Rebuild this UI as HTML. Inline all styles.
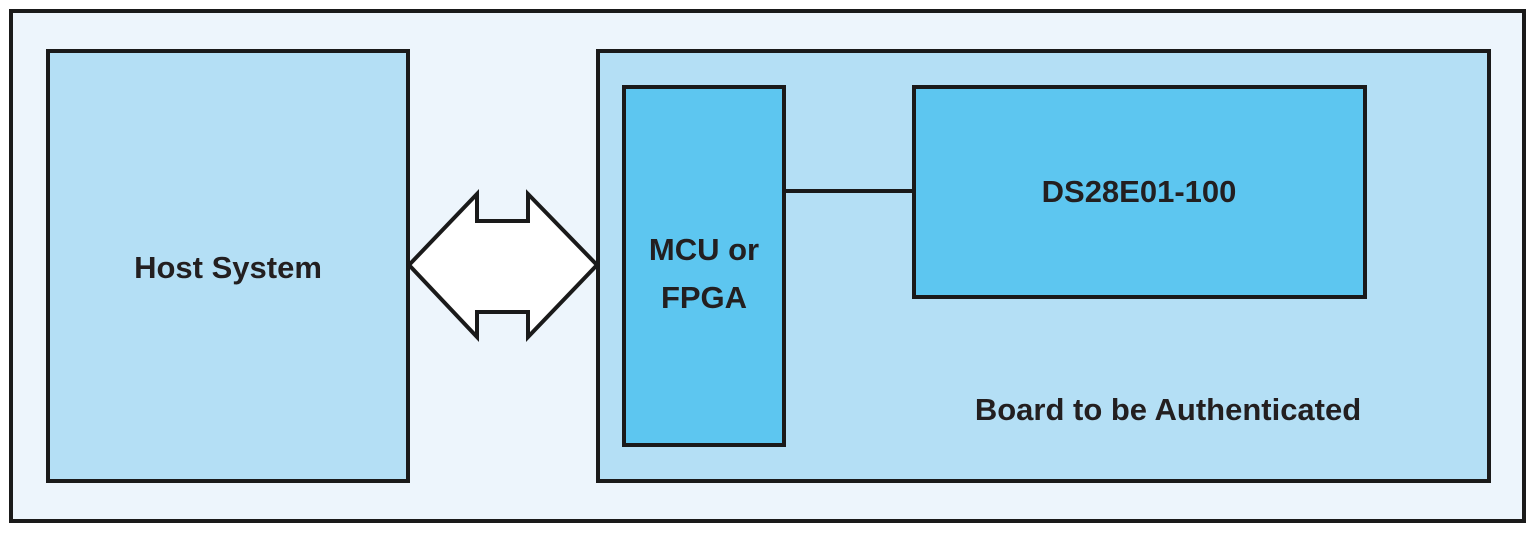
<!DOCTYPE html>
<html><head><meta charset="utf-8"><style>
html,body{margin:0;padding:0;background:#fff;}
svg text{font-family:"Liberation Sans",sans-serif;font-weight:bold;fill:#231f20;}
</style></head><body>
<svg width="1535" height="533" viewBox="0 0 1535 533" xmlns="http://www.w3.org/2000/svg">
<rect x="11" y="11" width="1513" height="510" fill="#edf5fc" stroke="#1a1a1a" stroke-width="4"/>
<rect x="48" y="51" width="360" height="430" fill="#b4dff5" stroke="#1a1a1a" stroke-width="4"/>
<rect x="598" y="51" width="891" height="430" fill="#b4dff5" stroke="#1a1a1a" stroke-width="4"/>
<rect x="624" y="87" width="160" height="358" fill="#5dc6f0" stroke="#1a1a1a" stroke-width="4"/>
<rect x="914" y="87" width="451" height="210" fill="#5dc6f0" stroke="#1a1a1a" stroke-width="4"/>
<line x1="784" y1="191" x2="914" y2="191" stroke="#1a1a1a" stroke-width="4"/>
<polygon points="409,265 477,194 477,221 528,221 528,194 597,265 528,337 528,312 477,312 477,337" fill="#fff" stroke="#1a1a1a" stroke-width="4" stroke-linejoin="miter"/>
<text x="228" y="278" font-size="31" text-anchor="middle">Host System</text>
<text x="704" y="260" font-size="31" text-anchor="middle">MCU or</text>
<text x="704" y="308" font-size="31" text-anchor="middle">FPGA</text>
<text x="1139" y="202" font-size="31" text-anchor="middle">DS28E01-100</text>
<text x="1168" y="420" font-size="31" text-anchor="middle">Board to be Authenticated</text>
</svg>
</body></html>
